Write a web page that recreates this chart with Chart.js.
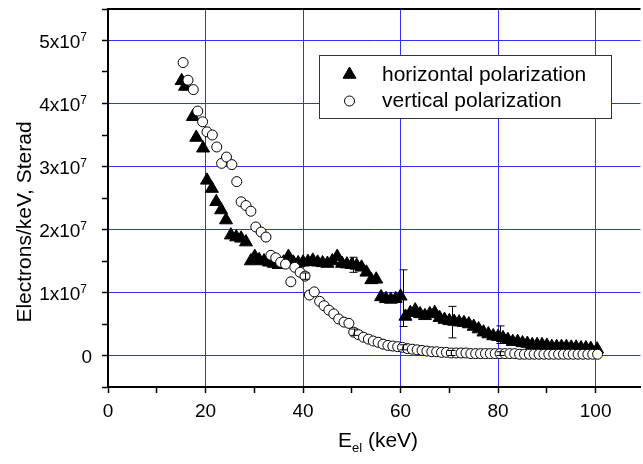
<!DOCTYPE html>
<html>
<head>
<meta charset="utf-8">
<script src="https://cdn.jsdelivr.net/npm/chart.js@4"></script>
<style>
  html, body { margin: 0; padding: 0; background: #fff; overflow: hidden; }
</style>
</head>
<body>
<canvas id="chart" width="649" height="464"></canvas>
<script>
// electron energy (keV) and counts in units of 1x10^7 electrons/keV/sr
const horizE = [15.1, 15.8, 17.4, 18.1, 19.5, 20.3, 21.3, 22.2, 23.2, 24.2, 25.2, 26.3, 27.3, 28.3, 29.3,
  30.1, 31, 32, 33, 34, 35, 36, 37, 38, 39, 40, 41, 42, 43, 44, 45, 46, 47, 48, 49,
  50, 51, 52, 53, 54, 55, 56, 57, 58, 59, 60, 61, 62, 63, 64, 65, 66, 67, 68, 69,
  70, 71, 72, 73, 74, 75, 76, 77, 78, 79, 80, 81, 82, 83, 84, 85, 86, 87, 88, 89,
  90, 91, 92, 93, 94, 95, 96, 97, 98, 99, 100.3];
const horizN = [4.36, 4.27, 3.79, 3.46, 3.29, 2.78, 2.65, 2.44, 2.31, 2.15, 1.91, 1.88, 1.86, 1.80, 1.50,
  1.57, 1.52, 1.50, 1.48, 1.46, 1.44, 1.48, 1.57, 1.48, 1.47, 1.48, 1.49, 1.51, 1.48, 1.47, 1.46, 1.50, 1.57, 1.46, 1.45,
  1.44, 1.43, 1.40, 1.32, 1.20, 1.21, 0.93, 0.90, 0.89, 0.90, 0.94, 0.62, 0.68, 0.72, 0.66, 0.63, 0.66, 0.68, 0.60, 0.57,
  0.55, 0.54, 0.53, 0.52, 0.50, 0.46, 0.42, 0.37, 0.34, 0.31, 0.30, 0.28, 0.25, 0.22, 0.22, 0.20, 0.19, 0.17, 0.17, 0.17,
  0.16, 0.14, 0.14, 0.14, 0.14, 0.13, 0.13, 0.12, 0.12, 0.11, 0.10];

const vertE = [15.4, 16.4, 17.5, 18.4, 19.4, 20.3, 21.4, 22.3, 23.3, 24.3, 25.4, 26.4, 27.3, 28.3, 29.3,
  30.3, 31.4, 32.4, 33.4, 34.4, 35.4, 36.4, 37.5, 38.3, 39.4, 40.4, 41.3, 42.3, 43.4, 44.3,
  45.3, 46.3, 47.3, 48.4, 49.4, 50.4, 51.4, 52.4, 53.4, 54.4, 55.4, 56.4, 57.4, 58.4, 59.4,
  60.4, 61.4, 62.4, 63.4, 64.4, 65.4, 66.4, 67.4, 68.4, 69.4, 70.4, 71.4, 72.4, 73.4, 74.4,
  75.4, 76.4, 77.4, 78.4, 79.4, 80.4, 81.4, 82.4, 83.4, 84.4, 85.4, 86.4, 87.4, 88.4, 89.4,
  90.4, 91.4, 92.4, 93.4, 94.4, 95.4, 96.4, 97.4, 98.4, 99.4, 100.4];
const vertN = [4.65, 4.37, 4.22, 3.88, 3.71, 3.55, 3.50, 3.31, 3.05, 3.15, 3.03, 2.76, 2.44, 2.38, 2.29,
  2.04, 1.96, 1.88, 1.59, 1.55, 1.48, 1.45, 1.17, 1.40, 1.32, 1.26, 0.96, 1.01, 0.86, 0.79,
  0.72, 0.66, 0.58, 0.53, 0.51, 0.37, 0.33, 0.29, 0.26, 0.23, 0.21, 0.18, 0.16, 0.15, 0.14,
  0.13, 0.11, 0.10, 0.09, 0.08, 0.07, 0.06, 0.06, 0.05, 0.05, 0.04, 0.04, 0.04, 0.04, 0.03,
  0.03, 0.03, 0.03, 0.03, 0.03, 0.03, 0.03, 0.03, 0.03, 0.02, 0.02, 0.02, 0.02, 0.02, 0.02,
  0.02, 0.02, 0.02, 0.02, 0.02, 0.02, 0.02, 0.02, 0.02, 0.02, 0.02];

// error bars: position, centre, half height
const horizErrE = [50.3, 60.4, 70.5, 80.3];
const horizErrN = [1.44, 0.91, 0.53, 0.33];
const horizErrD = [0.12, 0.45, 0.25, 0.14];
const vertErrE = [40.4, 50.4, 60.4, 70.4, 80.4];
const vertErrN = [1.26, 0.37, 0.13, 0.04, 0.03];
const vertErrD = [0.05, 0.05, 0.04, 0.04, 0.03];

const xTicks = [0, 10, 20, 30, 40, 50, 60, 70, 80, 90, 100];
const xLabels = [0, 20, 40, 60, 80, 100];
const yTicks = [-0.5, 0, 0.5, 1, 1.5, 2, 2.5, 3, 3.5, 4, 4.5, 5, 5.5];
const yLabels = [0, 1, 2, 3, 4, 5];
const seriesNames = ['horizontal polarization', 'vertical polarization'];

const FONT = '"Liberation Sans", Arial, Helvetica, sans-serif';
const BLUE = '#2f2fff';
const CLEAR = 'rgba(0,0,0,0)';

const triStyle = { pointStyle: 'triangle', radius: 7.5, rotation: 0, borderWidth: 1 };
const circStyle = { pointStyle: 'circle', radius: 5, rotation: 0, borderWidth: 1 };

const extras = {
  id: 'extras',
  afterDatasetsDraw(chart) {
    const ctx = chart.ctx, xs = chart.scales.x, ys = chart.scales.y;
    function bars(E, N, D) {
      ctx.save();
      ctx.strokeStyle = '#000';
      ctx.lineWidth = 1;
      for (let i = 0; i < E.length; i++) {
        const px = Math.round(xs.getPixelForValue(E[i])) + 0.5;
        const top = ys.getPixelForValue(N[i] + D[i]);
        const bot = ys.getPixelForValue(N[i] - D[i]);
        ctx.beginPath();
        ctx.moveTo(px, top); ctx.lineTo(px, bot);
        ctx.moveTo(px - 4, top); ctx.lineTo(px + 4, top);
        ctx.moveTo(px - 4, bot); ctx.lineTo(px + 4, bot);
        ctx.stroke();
      }
      ctx.restore();
    }
    bars(horizErrE, horizErrN, horizErrD);
    bars(vertErrE, vertErrN, vertErrD);
  },
  afterDraw(chart) {
    const ctx = chart.ctx, xs = chart.scales.x, ys = chart.scales.y;
    const area = chart.chartArea;
    ctx.save();

    // top frame line
    ctx.strokeStyle = '#000';
    ctx.lineWidth = 2;
    ctx.beginPath();
    ctx.moveTo(area.left - 1, area.top);
    ctx.lineTo(area.right, area.top);
    ctx.stroke();

    ctx.fillStyle = '#000';
    // x tick labels
    ctx.font = '19px ' + FONT;
    ctx.textAlign = 'center';
    ctx.textBaseline = 'alphabetic';
    xLabels.forEach(v => ctx.fillText(String(v), xs.getPixelForValue(v), 417));

    // y tick labels with superscript exponent
    yLabels.forEach(v => {
      const py = ys.getPixelForValue(v);
      ctx.textAlign = 'right';
      if (v === 0) {
        ctx.font = '19px ' + FONT;
        ctx.fillText('0', 92, py + 7);
        return;
      }
      ctx.font = '12px ' + FONT;
      const supW = ctx.measureText('7').width;
      ctx.fillText('7', 87, py);
      ctx.font = '19px ' + FONT;
      ctx.fillText(v + 'x10', 87 - supW, py + 7);
    });

    // y axis title
    ctx.save();
    ctx.translate(31, 222);
    ctx.rotate(-Math.PI / 2);
    ctx.font = '21px ' + FONT;
    ctx.textAlign = 'center';
    ctx.textBaseline = 'alphabetic';
    ctx.fillText('Electrons/keV, Sterad', 0, 0);
    ctx.restore();

    // x axis title with subscript
    ctx.textAlign = 'left';
    ctx.font = '21px ' + FONT;
    const wE = ctx.measureText('E').width;
    const wRest = ctx.measureText(' (keV)').width;
    ctx.font = '13px ' + FONT;
    const wSub = ctx.measureText('el').width;
    let tx = 378 - (wE + wSub + wRest) / 2;
    ctx.font = '21px ' + FONT;
    ctx.fillText('E', tx, 447);
    tx += wE;
    ctx.font = '13px ' + FONT;
    ctx.fillText('el', tx, 452);
    tx += wSub;
    ctx.font = '21px ' + FONT;
    ctx.fillText(' (keV)', tx, 447);

    // legend box
    const bx = 319.5, by = 55.5, bw = 292, bh = 63;
    ctx.fillStyle = '#fff';
    ctx.fillRect(bx, by, bw, bh);
    ctx.strokeStyle = '#333';
    ctx.lineWidth = 1;
    ctx.strokeRect(bx, by, bw, bh);

    ctx.fillStyle = '#000';
    ctx.strokeStyle = '#000';
    Chart.helpers.drawPoint(ctx, triStyle, 349.5, 74.5);
    ctx.fillStyle = '#fff';
    Chart.helpers.drawPoint(ctx, circStyle, 349.5, 101);
    ctx.fillStyle = '#000';
    ctx.font = '21px ' + FONT;
    ctx.textAlign = 'left';
    ctx.textBaseline = 'middle';
    ctx.fillText(seriesNames[0], 382, 75);
    ctx.fillText(seriesNames[1], 382, 101);

    ctx.restore();
  }
};

new Chart(document.getElementById('chart'), {
  type: 'scatter',
  data: {
    datasets: [
      {
        label: seriesNames[0],
        data: horizE.map((e, i) => ({ x: e, y: horizN[i] })),
        pointStyle: 'triangle',
        pointRadius: 7.5,
        backgroundColor: '#000',
        borderColor: '#000',
        borderWidth: 1,
        order: 2
      },
      {
        label: seriesNames[1],
        data: vertE.map((e, i) => ({ x: e, y: vertN[i] })),
        pointStyle: 'circle',
        pointRadius: 5,
        backgroundColor: '#fff',
        borderColor: '#000',
        borderWidth: 1,
        order: 1
      }
    ]
  },
  options: {
    responsive: false,
    animation: false,
    devicePixelRatio: 1,
    layout: { padding: { left: 102, top: 9, right: 0, bottom: 71 } },
    plugins: { legend: { display: false }, tooltip: { enabled: false } },
    scales: {
      x: {
        type: 'linear',
        min: 0,
        max: 109.2,
        afterBuildTicks: s => { s.ticks = xTicks.map(v => ({ value: v })); },
        ticks: { display: false },
        border: { color: '#000', width: 2 },
        grid: {
          color: c => (c.tick && c.tick.value !== 0 && xLabels.includes(c.tick.value)) ? BLUE : CLEAR,
          lineWidth: 1,
          tickColor: '#000',
          tickWidth: 1.5,
          tickLength: 6
        }
      },
      y: {
        type: 'linear',
        min: -0.5,
        max: 5.5,
        afterBuildTicks: s => { s.ticks = yTicks.map(v => ({ value: v })); },
        ticks: { display: false },
        border: { color: '#000', width: 2 },
        grid: {
          color: c => (c.tick && yLabels.includes(c.tick.value)) ? BLUE : CLEAR,
          lineWidth: 1,
          tickColor: '#000',
          tickWidth: 1.5,
          tickLength: 6
        }
      }
    }
  },
  plugins: [extras]
});
</script>
</body>
</html>
